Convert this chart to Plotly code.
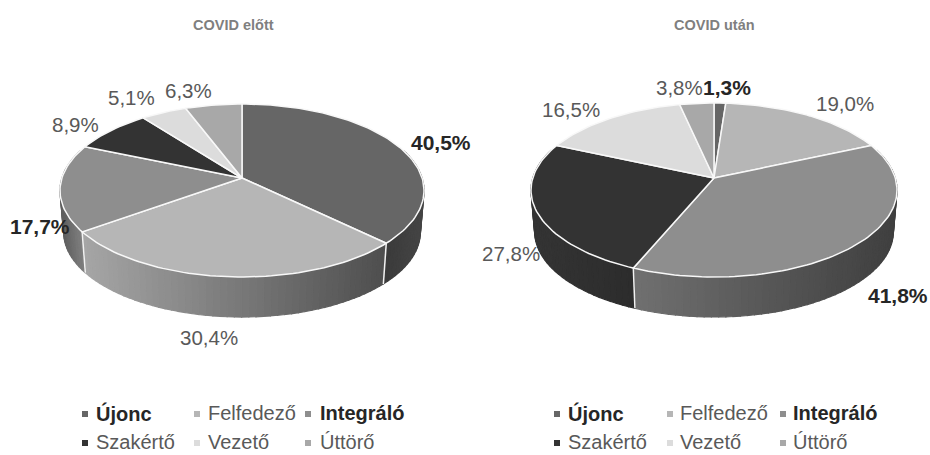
import math
import plotly.graph_objects as go

categories = ["Újonc", "Felfedező", "Integráló", "Szakértő", "Vezető", "Úttörő"]
before_values = [40.5, 30.4, 17.7, 8.9, 5.1, 6.3]
after_values = [1.3, 19.0, 41.8, 27.8, 16.5, 3.8]
before_title = "COVID előtt"
after_title = "COVID után"
bold_categories = ["Újonc", "Integráló"]
top_colors = ["#666666", "#b6b6b6", "#8e8e8e", "#333333", "#dcdcdc", "#a8a8a8"]

TEXT = "#595959"
GEOM = [
    dict(cx=242, apex=178, top=104, bot=277, rx=182, depth=42, title_x=233.5,
         wall=[("#3a3a3a", "#454545"), ("#a6a6a6", "#4e4e4e"), ("#5e5e5e", "#828282"),
               ("#333333", "#333333"), ("#bbbbbb", "#bbbbbb"), ("#888888", "#888888")],
         labels=[(441, 142), (209, 337), (40, 226), (75, 124), (131, 97), (188, 90)],
         bold=[True, False, True, False, False, False],
         leg_marker=[85, 197, 308], leg_text=[94, 206, 318]),
    dict(cx=714, apex=178, top=103, bot=277, rx=183, depth=42, title_x=714,
         wall=[("#444444", "#444444"), ("#888888", "#888888"), ("#707070", "#3f3f3f"),
               ("#343434", "#2c2c2c"), ("#bbbbbb", "#bbbbbb"), ("#888888", "#888888")],
         labels=[(727, 87), (845, 103), (898, 295), (511, 253), (571, 109), (679, 87)],
         bold=[True, False, True, False, False, False],
         leg_marker=[557, 670, 783], leg_text=[566, 678, 791]),
]
LEG_Y = [413, 442]


def projector(g, scale=1.0, dy=0.0):
    """Perspective map from the angle clockwise from 12 o'clock to pixels."""
    b = g["apex"]
    up, lo = g["top"], g["bot"]
    c = (2 * b - up - lo) / (lo - up) * -1
    a = up * (1 + c) - b
    k = a - b * c
    R = g["rx"] * math.sqrt(1 - c * c)

    def f(deg):
        p = math.radians(deg)
        s = math.cos(p)
        d = 1 + c * s
        return (g["cx"] + scale * R * math.sin(p) / d,
                b + dy + scale * k * s / d)
    return f


def hex_mix(h1, h2, t):
    t = max(0, min(1, t))
    v = [round(int(h1[i:i + 2], 16) * (1 - t) + int(h2[i:i + 2], 16) * t) for i in (1, 3, 5)]
    return "#%02x%02x%02x" % tuple(v)


fig = go.Figure()


def poly(xs, ys, fill, line=None, width=0):
    fig.add_trace(go.Scatter(
        x=xs, y=ys, mode="lines", fill="toself", fillcolor=fill,
        line=dict(color=line or fill, width=width if line else 1.2),
        hoverinfo="skip", showlegend=False))


def draw_pie(values, g):
    total = sum(values)
    top = projector(g)
    bottom = projector(g, scale=0.98, dy=g["depth"])
    start = 0.0
    spans = []
    for v in values:
        spans.append((start, start + v / total * 360))
        start += v / total * 360

    # side wall
    for (a0, a1), (cl, cr) in zip(spans, g["wall"]):
        lo, hi = max(a0, 70), min(a1, 290)
        if hi <= lo:
            continue
        n = max(1, int((hi - lo) / 2))
        xa = [top(lo + (hi - lo) * i / n)[0] for i in range(n + 1)]
        xmin, xmax = min(xa), max(xa)
        for i in range(n):
            p0 = lo + (hi - lo) * i / n
            p1 = lo + (hi - lo) * (i + 1) / n
            t0, t1, b1, b0 = top(p0), top(p1), bottom(p1), bottom(p0)
            tt = ((t0[0] + t1[0]) / 2 - xmin) / max(1, xmax - xmin)
            poly([t0[0], t1[0], b1[0], b0[0], t0[0]],
                 [t0[1], t1[1], b1[1], b0[1], t0[1]], hex_mix(cl, cr, tt))
    # white wall separators on the front
    for a0, _ in spans:
        if 95 < a0 < 265:
            t, b = top(a0), bottom(a0)
            fig.add_trace(go.Scatter(x=[t[0], b[0]], y=[t[1], b[1]], mode="lines",
                                     line=dict(color="#f2f2f2", width=1.5),
                                     hoverinfo="skip", showlegend=False))
    # top faces
    for (a0, a1), col in zip(spans, top_colors):
        n = max(2, int((a1 - a0) / 1.5))
        pts = [top(a0 + (a1 - a0) * i / n) for i in range(n + 1)]
        xs = [g["cx"]] + [p[0] for p in pts] + [g["cx"]]
        ys = [g["apex"]] + [p[1] for p in pts] + [g["apex"]]
        poly(xs, ys, col, line="#f8f8f8", width=1.5)


annotations = []


def text(x, y, s, size, color=TEXT, bold=False, anchor="center", family="Liberation Sans"):
    annotations.append(dict(
        x=x, y=y, xref="x", yref="y", text=f"<b>{s}</b>" if bold else s, showarrow=False,
        xanchor=anchor, yanchor="middle",
        font=dict(size=size, color=color, family=family)))


for values, g, title in zip((before_values, after_values), GEOM, (before_title, after_title)):
    draw_pie(values, g)
    text(g["title_x"], 25, title, 14.5, color="#7f7f7f", bold=True)
    for v, pos, b in zip(values, g["labels"], g["bold"]):
        text(pos[0], pos[1], f"{v:.1f}%".replace(".", ","), 21 if b else 20.5,
             color="#262626" if b else TEXT, bold=b)
    for i, cat in enumerate(categories):
        row, col = i // 3, i % 3
        bold = cat in bold_categories
        fig.add_trace(go.Scatter(
            x=[g["leg_marker"][col]], y=[LEG_Y[row] + 1], mode="markers",
            marker=dict(symbol="square", size=6, color=top_colors[i]),
            hoverinfo="skip", showlegend=False))
        text(g["leg_text"][col], LEG_Y[row], cat, 20,
             color="#262626" if bold else TEXT, bold=bold, anchor="left")

fig.update_layout(
    width=930, height=455, margin=dict(l=0, r=0, t=0, b=0),
    paper_bgcolor="white", plot_bgcolor="white", showlegend=False,
    xaxis=dict(range=[0, 930], visible=False, fixedrange=True),
    yaxis=dict(range=[455, 0], visible=False, fixedrange=True),
    annotations=annotations,
)
fig.write_html("out.html", config=dict(displayModeBar=False),
               post_script="document.body.style.margin='0';document.body.style.overflow='hidden';")
